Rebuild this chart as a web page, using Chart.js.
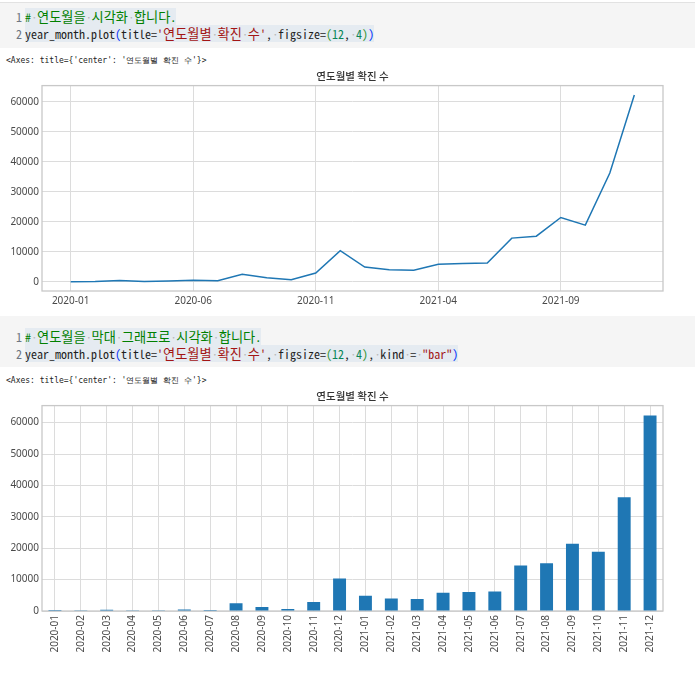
<!DOCTYPE html>
<html><head><meta charset="utf-8">
<script src="https://cdn.jsdelivr.net/npm/chart.js@4"></script>
<style>
body{margin:0;width:695px;height:673px;background:#fff;position:relative;overflow:hidden;font-family:'Noto Sans','Noto Sans CJK KR',sans-serif;}
.cell{position:absolute;left:0;width:695px;background:#f5f5f5;}
.cell.first{border-top:1px solid #e2e2e2;}
.ln{position:absolute;left:0;font-family:'Noto Sans Mono CJK KR','DejaVu Sans Mono','Noto Sans CJK KR',monospace;font-size:12px;white-space:pre;line-height:17px;height:17px;}
.num{position:absolute;left:0;width:22px;text-align:right;color:#6e7681;}
.code{position:absolute;left:25px;background:#e5ebf1;color:#1f1f1f;}
.ko{font-size:13.2px;}
.cm{color:#008000}.st{color:#a31515}.nu{color:#098658}.b1{color:#0431fa}.b2{color:#319331}
.ws{color:#b8b8b8;display:inline-block;width:6px;text-align:center;overflow:visible;}
.out{position:absolute;left:6px;font-family:'DejaVu Sans Mono',monospace;font-size:8px;color:#222;white-space:pre;}
canvas{position:absolute;left:0;}
</style></head>
<body>
<div class="cell first" style="top:2px;height:45px;">
  <div class="ln" style="top:5px"><span class="num">1</span><span class="code"><span class="cm">#<span class="ws">·</span><span class="ko">연도월을</span><span class="ws">·</span><span class="ko">시각화</span><span class="ws">·</span><span class="ko">합니다</span>.</span></span></div>
  <div class="ln" style="top:22px"><span class="num">2</span><span class="code">year_month.plot<span class="b1">(</span>title=<span class="st">'<span class="ko">연도월별</span><span class="ws">·</span><span class="ko">확진</span><span class="ws">·</span><span class="ko">수</span>'</span>,<span class="ws">·</span>figsize=<span class="b2">(</span><span class="nu">12</span>,<span class="ws">·</span><span class="nu">4</span><span class="b2">)</span><span class="b1">)</span></span></div>
</div>
<div class="out" style="top:55px">&lt;Axes: title={'center': '연도월별 확진 수'}&gt;</div>
<canvas id="c1" width="695" height="245" style="top:66px"></canvas>

<div class="cell" style="top:316px;height:51px;">
  <div class="ln" style="top:12px"><span class="num">1</span><span class="code"><span class="cm">#<span class="ws">·</span><span class="ko">연도월을</span><span class="ws">·</span><span class="ko">막대</span><span class="ws">·</span><span class="ko">그래프로</span><span class="ws">·</span><span class="ko">시각화</span><span class="ws">·</span><span class="ko">합니다</span>.</span></span></div>
  <div class="ln" style="top:29px"><span class="num">2</span><span class="code">year_month.plot<span class="b1">(</span>title=<span class="st">'<span class="ko">연도월별</span><span class="ws">·</span><span class="ko">확진</span><span class="ws">·</span><span class="ko">수</span>'</span>,<span class="ws">·</span>figsize=<span class="b2">(</span><span class="nu">12</span>,<span class="ws">·</span><span class="nu">4</span><span class="b2">)</span>,<span class="ws">·</span>kind<span class="ws">·</span>=<span class="ws">·</span><span class="st">"bar"</span><span class="b1">)</span></span></div>
</div>
<div class="out" style="top:375px">&lt;Axes: title={'center': '연도월별 확진 수'}&gt;</div>
<canvas id="c2" width="695" height="287" style="top:386px"></canvas>

<script>
const TITLE = '연도월별 확진 수';
const months = ['2020-01','2020-02','2020-03','2020-04','2020-05','2020-06','2020-07','2020-08','2020-09','2020-10','2020-11','2020-12',
                '2021-01','2021-02','2021-03','2021-04','2021-05','2021-06','2021-07','2021-08','2021-09','2021-10','2021-11','2021-12'];
const cases = [7, 80, 420, 60, 250, 450, 300, 2440, 1270, 640, 2900, 10350,
               4880, 4000, 3800, 5800, 6020, 6230, 14530, 15180, 21410, 18870, 36250, 62300];
const lineTickIdx = [0, 5, 10, 15, 20];
const yTicks = [0, 10000, 20000, 30000, 40000, 50000, 60000];

const FONT = "'Noto Sans','Noto Sans CJK KR',sans-serif";
const tickFont = {family: FONT, size: 10};
const tickColor = '#4a4a4a';
const gridColor = '#dcdcdc';
const blue = '#1f77b4';

const frame = {id:'frame', beforeDatasetsDraw(c){
  const a=c.chartArea, x=c.ctx; x.save(); x.strokeStyle='#c8c8c8'; x.lineWidth=1.3;
  x.strokeRect(a.left,a.top,a.right-a.left,a.bottom-a.top); x.restore();
}};
const titleOpts = {display:true, fullSize:false, text:TITLE, color:'#333', font:{family:"'Noto Sans CJK KR','Noto Sans',sans-serif",size:10.5,weight:'500'}, padding:{top:4,bottom:3}};

const ymax = Math.max(...cases) * 1.05;
const ymin = -Math.max(...cases) * 0.05;

new Chart(document.getElementById('c1'), {
  type:'line',
  data:{datasets:[{data: cases.map((v,i)=>({x:i,y:v})), borderColor:blue, borderWidth:1.5, pointRadius:0, tension:0, fill:false}]},
  options:{
    responsive:false, animation:false, devicePixelRatio:1,
    layout:{padding:{left:0,right:32,top:0,bottom:0}},
    plugins:{legend:{display:false}, tooltip:{enabled:false}, title:titleOpts},
    scales:{
      x:{type:'linear', min:-1.17, max:24.17,
         afterBuildTicks:s=>{s.ticks=lineTickIdx.map(v=>({value:v}));},
         ticks:{callback:v=>months[v], font:tickFont, color:tickColor, padding:4, maxRotation:0, autoSkip:false},
         grid:{color:gridColor, lineWidth:1, drawTicks:false}, border:{display:false},
         afterFit:s=>{s.height=20;}},
      y:{type:'linear', min:ymin, max:ymax,
         afterBuildTicks:s=>{s.ticks=yTicks.map(v=>({value:v}));},
         ticks:{callback:v=>String(v), font:tickFont, color:tickColor, padding:3},
         grid:{color:gridColor, lineWidth:1, drawTicks:false}, border:{display:false},
         afterFit:s=>{s.width=42;}}
    }
  },
  plugins:[frame]
});

new Chart(document.getElementById('c2'), {
  type:'bar',
  data:{labels:months, datasets:[{data:cases, backgroundColor:blue, borderWidth:0, barPercentage:0.5, categoryPercentage:1.0}]},
  options:{
    responsive:false, animation:false, devicePixelRatio:1,
    layout:{padding:{left:0,right:32,top:0,bottom:0}},
    plugins:{legend:{display:false}, tooltip:{enabled:false}, title:titleOpts},
    scales:{
      x:{type:'category', offset:true,
         ticks:{font:tickFont, color:tickColor, padding:4, minRotation:90, maxRotation:90, autoSkip:false},
         grid:{color:gridColor, lineWidth:1, drawTicks:false, offset:false}, border:{display:false},
         afterFit:s=>{s.height=62;}},
      y:{type:'linear', min:0, max:ymax,
         afterBuildTicks:s=>{s.ticks=yTicks.map(v=>({value:v}));},
         ticks:{callback:v=>String(v), font:tickFont, color:tickColor, padding:3},
         grid:{color:gridColor, lineWidth:1, drawTicks:false}, border:{display:false},
         afterFit:s=>{s.width=42;}}
    }
  },
  plugins:[frame]
});
</script>
</body></html>
